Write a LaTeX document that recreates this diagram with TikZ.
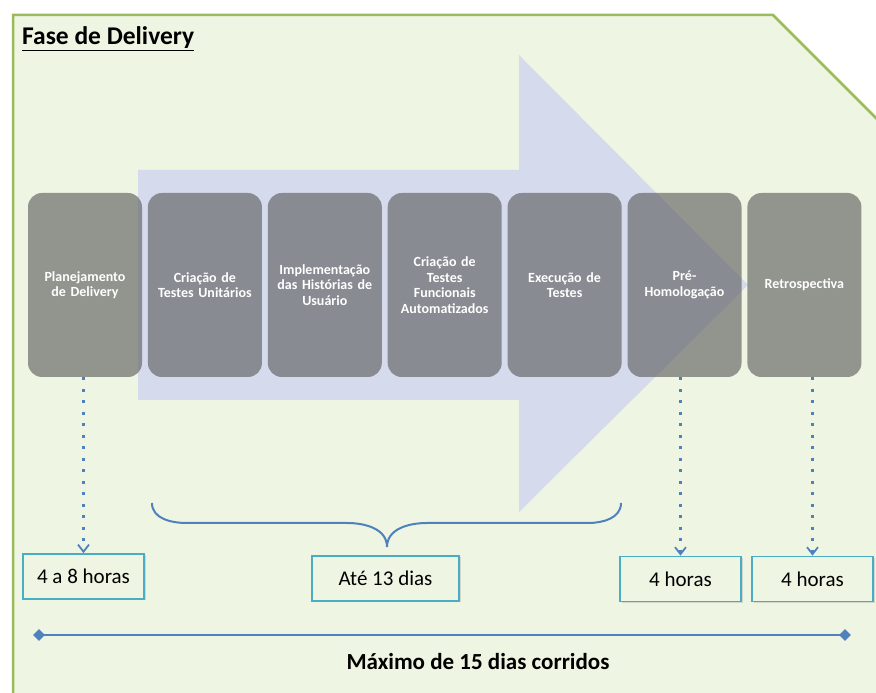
\documentclass[tikz,border=0pt]{standalone}
\usepackage{fontspec}
\setmainfont{Carlito}
\usetikzlibrary{positioning,arrows.meta,shapes.geometric,shadows}
\definecolor{panelgreen}{HTML}{EEF5E3}
\definecolor{panelborder}{HTML}{9BBB59}
\definecolor{arrowblue}{HTML}{D5DBED}
\definecolor{lineblue}{HTML}{4F81BD}
\definecolor{boxteal}{HTML}{4BACC6}
\definecolor{stagegray}{HTML}{5A5A5A}

\begin{document}
\begin{tikzpicture}[x=1pt,y=1pt,
	stage node/.style={
		rectangle,
		rounded corners=14pt,
		fill=stagegray,
		fill opacity=0.62,
		text opacity=1,
		text=white,
		minimum width=114pt,
		minimum height=184pt,
		inner sep=0pt,
		text width=112pt,
		align=center,
		font=\fontsize{14}{15.5}\selectfont\bfseries
	},
	time node/.style={
		rectangle,
		draw=boxteal,
		line width=1.8pt,
		fill=panelgreen,
		minimum width=121pt,
		minimum height=45pt,
		inner sep=0pt,
		font=\fontsize{21}{24}\selectfont,
		drop shadow={opacity=0.25,shadow xshift=1.5pt,shadow yshift=-1.5pt}
	},
	dotted link/.style={
		draw=lineblue,
		line width=3pt,
		dash pattern=on 3pt off 8.5pt,
		-{Straight Barb[length=7pt,width=11pt,line width=1.8pt]}
	},
	tick/.style={
		diamond,
		fill=lineblue,
		inner sep=0pt,
		minimum size=12pt
	},
]
	\useasboundingbox (0,0) rectangle (876,693);
	\clip (0,0) rectangle (876,693);

	% background panel
	\draw[fill=panelgreen,draw=panelborder,line width=2.5pt]
		(13,-10) -- (13,678) -- (773,678) -- (880,571) -- (880,-10) -- cycle;
	\node[anchor=base west,inner sep=0pt,font=\fontsize{25.5}{30}\selectfont\bfseries] (title) at (22,648) {\underline{Fase de Delivery}};

	% big arrow
	\fill[arrowblue] (138,293) -- (519,293) -- (519,181) -- (748,408)
		-- (519,638) -- (519,523) -- (138,523) -- cycle;

	% stages
	\node[stage node] (plan) at (85,408) {Planejamento\\de Delivery};
	\node[stage node] (unit) [right = 5.5pt of plan] {Criação de\\Testes Unitários};
	\node[stage node] (impl) [right = 5.5pt of unit] {Implementação\\das Histórias de\\Usuário};
	\node[stage node] (func) [right = 5.5pt of impl] {Criação de\\Testes\\Funcionais\\Automatizados};
	\node[stage node] (exec) [right = 5.5pt of func] {Execução de\\Testes};
	\node[stage node] (pre) [right = 5.5pt of exec] {Pré-\\Homologação};
	\node[stage node] (retro) [right = 5.5pt of pre] {Retrospectiva};

	% durations
	\node[time node] (t1) at (83.5,116.5) {4 a 8 horas};
	\node[time node,minimum width=147pt] (t2) at (385.5,114.5) {Até 13 dias};
	\node[time node] (t3) at (680.5,114) {4 horas};
	\node[time node] (t4) at (812.5,114) {4 horas};

	\draw[dotted link] (t1.north |- plan.south) -- (t1.north);
	\draw[dotted link] (t3.north |- pre.south) -- (t3.north);
	\draw[dotted link] (t4.north |- retro.south) -- (t4.north);

	% brace
	\draw[lineblue,line width=2pt]
		(152,190) to[out=-90,in=180] (187,170) -- (347,170)
		to[out=0,in=90] (387,146) to[out=90,in=180] (427,170)
		-- (588,170) to[out=0,in=-90] (621,190);

	% timeline
	\node[tick] (tl-l) at (39,58) {};
	\node[tick] (tl-r) at (845,58) {};
	\draw[lineblue,line width=2.5pt] (tl-l.center) -- (tl-r.center);
	\node[font=\fontsize{23}{26}\selectfont\bfseries] (maxlabel) at (478,31) {Máximo de 15 dias corridos};
\end{tikzpicture}
\end{document}
